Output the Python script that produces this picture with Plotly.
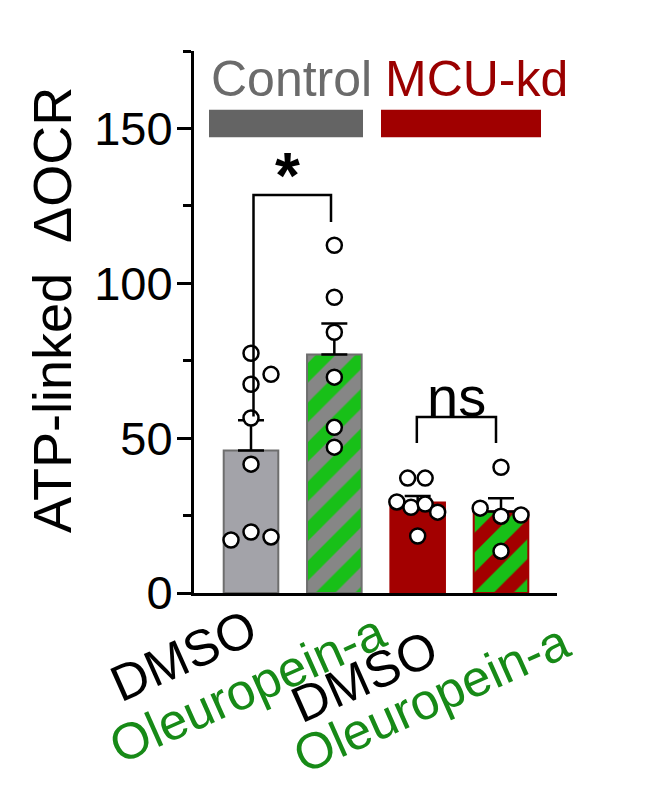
import plotly.graph_objects as go

# ---- data ----
groups = ["Control", "Control", "MCU-kd", "MCU-kd"]
treatments = ["DMSO", "Oleuropein-a", "DMSO", "Oleuropein-a"]
means = [46.0, 77.0, 29.2, 26.3]
sem_upper = [9.8, 10.0, 2.1, 4.3]

pts_ctrl_dmso = [77.4, 70.6, 67.4, 56.5, 41.6, 19.7, 17.1, 18.1]
jit_ctrl_dmso = [0.0, 0.24, 0.0, 0.0, 0.0, 0.0, -0.24, 0.24]
pts_ctrl_ole = [112.3, 95.5, 84.2, 69.7, 53.5, 47.1]
jit_ctrl_ole = [0.0, 0.0, 0.0, 0.0, 0.0, 0.0]
pts_mcu_dmso = [37.1, 37.1, 29.4, 27.7, 28.7, 26.1, 18.4]
jit_mcu_dmso = [-0.12, 0.09, -0.25, -0.08, 0.09, 0.24, 0.0]
pts_mcu_ole = [40.6, 27.4, 24.8, 25.2, 13.5]
jit_mcu_ole = [0.0, -0.25, 0.0, 0.24, 0.0]

y_ticks = [0, 50, 100, 150]
y_title = "ATP-linked  ΔOCR"

FONT = "Liberation Sans, Arial, sans-serif"
GREEN_TXT = "#178a17"
STRIPE = "#18c018"

bar_colors = ["#a3a3a9", "#868686", "#a30000", "#a30000"]
bar_lines = ["#6e6e6e", "#6e6e6e", "#a30000", "#a30000"]
patterns = ["", "/", "", "/"]

fig = go.Figure()
for i in range(len(means)):
    pat = dict(shape=patterns[i], fillmode="replace", bgcolor=bar_colors[i],
               fgcolor=STRIPE, fgopacity=1, size=28, solidity=0.5)
    fig.add_trace(go.Bar(
        x=[i], y=[means[i]], width=0.655,
        marker=dict(color=bar_colors[i], line=dict(color=bar_lines[i], width=2), pattern=pat),
        error_y=dict(type="data", array=[sem_upper[i]], arrayminus=[0], symmetric=False,
                     color="black", thickness=2.5, width=13),
        showlegend=False, hoverinfo="skip", name=groups[i] + " " + treatments[i],
    ))

all_pts = [pts_ctrl_dmso, pts_ctrl_ole, pts_mcu_dmso, pts_mcu_ole]
all_jit = [jit_ctrl_dmso, jit_ctrl_ole, jit_mcu_dmso, jit_mcu_ole]
px_, py_ = [], []
for i, (p, j) in enumerate(zip(all_pts, all_jit)):
    for v, d in zip(p, j):
        px_.append(i + d)
        py_.append(v)
fig.add_trace(go.Scatter(
    x=px_, y=py_, mode="markers",
    marker=dict(size=15, color="white", line=dict(color="black", width=2.5)),
    showlegend=False, hoverinfo="skip", cliponaxis=False,
))

shapes = [
    dict(type="rect", xref="x", yref="y", x0=-0.504, x1=1.344, y0=147.2, y1=156.0,
         fillcolor="#646464", line=dict(width=0)),
    dict(type="rect", xref="x", yref="y", x0=1.56, x1=3.48, y0=147.2, y1=156.0,
         fillcolor="#a00000", line=dict(width=0)),
    dict(type="path", xref="x", yref="y",
         path="M 0.03 57 L 0.03 128.5 L 0.96 128.5 L 0.96 119.8",
         line=dict(color="black", width=2.5)),
    dict(type="path", xref="x", yref="y",
         path="M 1.99 48.4 L 1.99 56.8 L 2.94 56.8 L 2.94 48.4",
         line=dict(color="black", width=2.5)),
]

annotations = [
    dict(text="Control", x=0.48, y=166.0, xref="x", yref="y", showarrow=False,
         font=dict(family=FONT, size=50, color="#6b6b6b"), xanchor="center", yanchor="middle"),
    dict(text="MCU-kd", x=2.70, y=166.0, xref="x", yref="y", showarrow=False,
         font=dict(family=FONT, size=50, color="#9a0000"), xanchor="center", yanchor="middle"),
    dict(text="<b>*</b>", x=0.44, y=134.5, xref="x", yref="y", showarrow=False,
         font=dict(family=FONT, size=64, color="black"), xanchor="center", yanchor="middle"),
    dict(text="ns", x=2.47, y=63.3, xref="x", yref="y", showarrow=False,
         font=dict(family=FONT, size=56, color="black"), xanchor="center", yanchor="middle"),
    dict(text=y_title, xref="paper", yref="paper", x=0, y=0.5, xshift=-142, yshift=12,
         textangle=-90, showarrow=False, xanchor="center", yanchor="middle",
         font=dict(family=FONT, size=54, color="black")),
]

label_colors = ["black", GREEN_TXT, "black", GREEN_TXT]
label_xshift = [17, 62, 31, 79]
label_yshift = [-3, -7, -24, -17]
for i, t in enumerate(treatments):
    annotations.append(dict(
        text=t, x=i, y=0, xref="x", yref="y", showarrow=False, textangle=-24,
        xanchor="right", yanchor="top", xshift=label_xshift[i], yshift=label_yshift[i],
        font=dict(family=FONT, size=51, color=label_colors[i])))

fig.update_layout(
    width=651, height=791,
    margin=dict(l=186, r=102, t=43, b=206),
    paper_bgcolor="white", plot_bgcolor="white",
    shapes=shapes, annotations=annotations, barmode="overlay",
    xaxis=dict(range=[-0.684, 3.672], showline=True, linecolor="black", linewidth=3,
               showticklabels=False, ticks="", showgrid=False, zeroline=False),
    yaxis=dict(range=[0, 175.01], showline=True, linecolor="black", linewidth=3,
               tickvals=y_ticks, ticks="outside", ticklen=14, tickwidth=3, tickcolor="black",
               tickfont=dict(family=FONT, size=47, color="black"), ticklabelstandoff=-5,
               minor=dict(tick0=0, dtick=25, ticks="outside", ticklen=8, tickwidth=3, tickcolor="black"),
               showgrid=False, zeroline=False),
)

fig.write_html("out.html")
